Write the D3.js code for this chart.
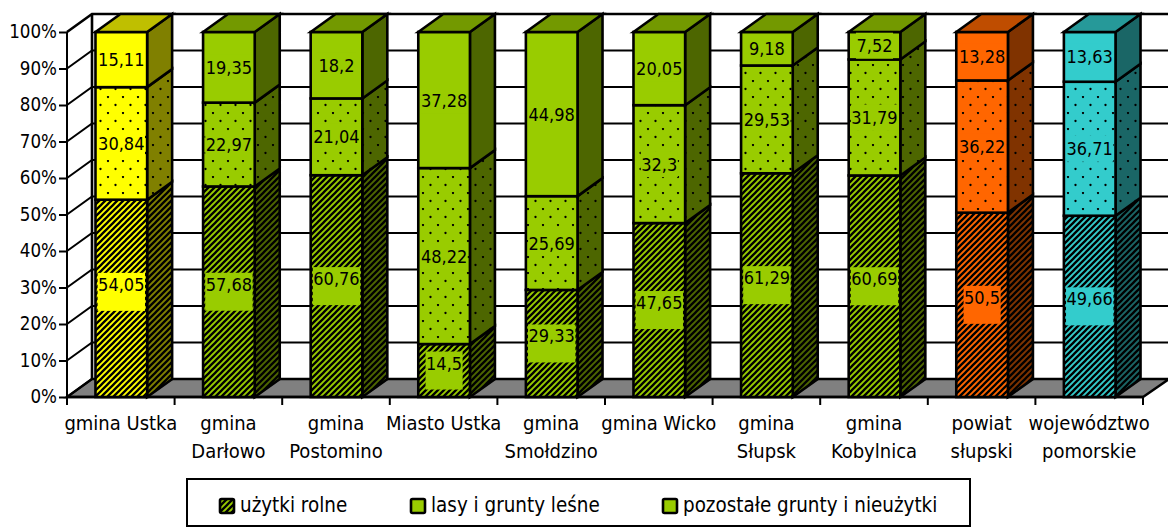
<!DOCTYPE html>
<html><head><meta charset="utf-8">
<script src="https://cdn.jsdelivr.net/npm/d3@7/dist/d3.min.js"></script>
<style>html,body{margin:0;padding:0;background:#fff;overflow:hidden}
text{font-family:"DejaVu Sans Condensed","DejaVu Sans",sans-serif;fill:#000}</style>
</head><body><div id="c"></div>
<script>
const categories=[["gmina Ustka"],["gmina","Darłowo"],["gmina","Postomino"],["Miasto Ustka"],["gmina","Smołdzino"],["gmina Wicko"],["gmina","Słupsk"],["gmina","Kobylnica"],["powiat","słupski"],["województwo","pomorskie"]];
const seriesNames=["użytki rolne","lasy i grunty leśne","pozostałe grunty i nieużytki"];
const uzytkiRolne=[54.05,57.68,60.76,14.5,29.33,47.65,61.29,60.69,50.5,49.66];
const lasyGrunty=[30.84,22.97,21.04,48.22,25.69,32.3,29.53,31.79,36.22,36.71];
const pozostale=[15.11,19.35,18.2,37.28,44.98,20.05,9.18,7.52,13.28,13.63];
const barColors=["#FFFF00","#99CC00","#99CC00","#99CC00","#99CC00","#99CC00","#99CC00","#99CC00","#FF6600","#33CCCC"];
const yTicks=[0,10,20,30,40,50,60,70,80,90,100];

const W=1168,H=528,dx=25,dy=-18;
const svg=d3.select("#c").append("svg").attr("width",W).attr("height",H).style("display","block");
const defs=svg.append("defs");
const x=d3.scaleBand().domain(d3.range(categories.length)).range([67.5,1143.5]).paddingInner(.52).paddingOuter(.26);
const y=d3.scaleLinear().domain([0,100]).range([397,32]);
const stroke="#000";

function darker(c,k){const r=d3.rgb(c);return d3.rgb(r.r*k,r.g*k,r.b*k).formatHex();}
const patId=new Map();
function pattern(color,kind){
  const key=color+kind;
  if(patId.has(key))return `url(#${patId.get(key)})`;
  const id="p"+patId.size;patId.set(key,id);
  if(kind==="hatch"){
    const s=6;
    const p=defs.append("pattern").attr("id",id).attr("patternUnits","userSpaceOnUse").attr("width",s).attr("height",s);
    p.append("rect").attr("width",s).attr("height",s).attr("fill",color);
    p.append("path").attr("d",`M${-s/2},${s/2}L${s/2},${-s/2}M0,${s}L${s},0M${s/2},${s*1.5}L${s*1.5},${s/2}`).attr("stroke","#000").attr("stroke-width",2.3);
  }else{
    const p=defs.append("pattern").attr("id",id).attr("patternUnits","userSpaceOnUse").attr("width",15).attr("height",16);
    p.append("rect").attr("width",15).attr("height",16).attr("fill",color);
    [[3,1],[10.5,9]].forEach(([a,b])=>p.append("circle").attr("cx",a).attr("cy",b).attr("r",1.15).attr("fill","#000"));
  }
  return `url(#${id})`;
}
const kinds=["hatch","dots","solid"];
const fillFor=(c,i)=>kinds[i]==="solid"?c:pattern(c,kinds[i]);

// walls and floor
const x0=x.range()[0]-.5,x1=x.range()[1]-.5;
svg.append("path").attr("d",`M${x0},${y(0)}L${x0+dx},${y(0)+dy}L${W+1},${y(0)+dy}L${x1},${y(0)}Z`).attr("fill","#808080").attr("stroke",stroke).attr("stroke-width",2.4);
const grid=svg.append("g").attr("fill","none").attr("stroke",stroke).attr("stroke-width",2);
yTicks.forEach(t=>{
  grid.append("path").attr("d",`M${x0},${y(t)}L${x0+dx},${y(t)+dy}L${W+1},${y(t)+dy}`).attr("stroke-width",t===100?2.6:2);
});
grid.append("path").attr("d",`M${x0+dx},${y(0)+dy}L${x0+dx},${y(100)+dy}`).attr("stroke-width",2.6);

// axes
const yAxis=d3.axisLeft(y).tickValues(yTicks).tickFormat(d=>d+"%").tickSize(8).tickPadding(2);
const ga=svg.append("g").attr("transform",`translate(${x0},0)`).call(yAxis);
ga.selectAll("path,line").attr("stroke",stroke).attr("stroke-width",2);
ga.selectAll("text").attr("font-size",18.6).attr("fill","#000");
ga.select(".domain").attr("d",`M0,${y(100)}V${y(0)}`);
const step=x.step();
const xTickG=svg.append("g").attr("stroke",stroke).attr("stroke-width",2);
d3.range(categories.length+1).forEach(i=>xTickG.append("line").attr("x1",x0+i*step).attr("x2",x0+i*step).attr("y1",y(0)).attr("y2",y(0)+8));
svg.append("line").attr("x1",x0).attr("x2",x1).attr("y1",y(0)).attr("y2",y(0)).attr("stroke",stroke).attr("stroke-width",2.4);

// bars
const series=[uzytkiRolne,lasyGrunty,pozostale];
const bars=svg.append("g").attr("stroke",stroke).attr("stroke-width",2.6).attr("stroke-linejoin","miter");
categories.forEach((cat,ci)=>{
  const g=bars.append("g"),c=barColors[ci],L=x(ci),R=L+x.bandwidth();
  let acc=0;
  const segs=series.map((s,si)=>{const a=acc;acc+=s[ci];return {si,a,b:acc,v:s[ci]};});
  segs.forEach(s=>{
    const yb=y(s.a),yt=y(s.b);
    g.append("path").attr("d",`M${R},${yb}L${R+dx},${yb+dy}L${R+dx},${yt+dy}L${R},${yt}Z`).attr("fill",fillFor(darker(c,.5),s.si));
    g.append("rect").attr("x",L).attr("y",yt).attr("width",R-L).attr("height",yb-yt).attr("fill",fillFor(c,s.si));
  });
  const yTop=y(acc);
  g.append("path").attr("d",`M${L},${yTop}L${L+dx},${yTop+dy}L${R+dx},${yTop+dy}L${R},${yTop}Z`).attr("fill",darker(c,.75));
});

// data labels
const lab=svg.append("g");
categories.forEach((cat,ci)=>{
  const c=barColors[ci],cx=x(ci)+x.bandwidth()/2;
  let acc=0;
  series.forEach((s,si)=>{
    const v=s[ci],mid=y(acc+v/2);acc+=v;
    const shift=(ci===0&&si===0)?-6.5:0;
    const rh=si===0?38:26;
    const rect=lab.append("rect");
    const t=lab.append("text").attr("x",cx).attr("text-anchor","middle").attr("font-size",18)
      .attr("y",mid+shift+(si===0?-1:6.5)).text(String(v).replace(".",","));
    const w=t.node().getComputedTextLength()+1;
    rect.attr("x",cx-w/2).attr("y",mid+shift-rh/2).attr("width",w).attr("height",rh).attr("fill",c);
  });
});

// category labels
const cl=svg.append("g");
categories.forEach((lines,ci)=>{
  lines.forEach((ln,li)=>cl.append("text").attr("x",x0+(ci+.5)*step).attr("y",430+li*27.5).attr("text-anchor","middle").attr("font-size",20).text(ln));
});

// legend
svg.append("rect").attr("x",187).attr("y",479).attr("width",783).attr("height",47).attr("fill","#fff").attr("stroke",stroke).attr("stroke-width",2);
const legX=[220,411,663];
seriesNames.forEach((n,i)=>{
  svg.append("rect").attr("x",legX[i]).attr("y",499).attr("width",14).attr("height",14).attr("rx",1.5).attr("fill",i===0?pattern("#99CC00","hatch"):"#99CC00").attr("stroke","#000").attr("stroke-width",2.6);
  svg.append("text").attr("x",legX[i]+20).attr("y",512).attr("font-size",20.4).text(n);
});
</script></body></html>
